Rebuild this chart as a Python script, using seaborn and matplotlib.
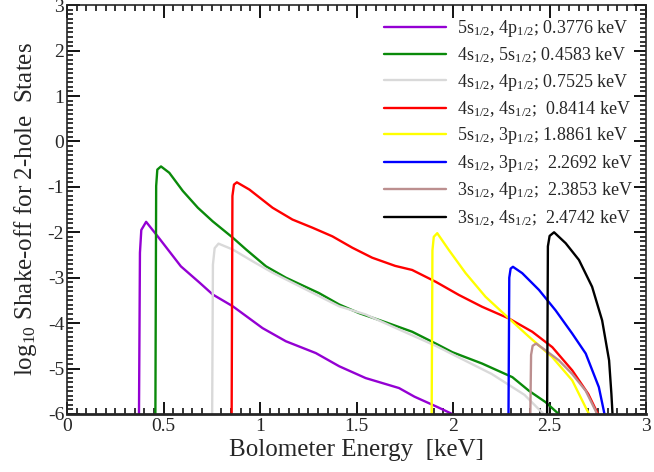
import numpy as np
import pandas as pd
import seaborn as sns
import matplotlib
matplotlib.use('Agg')
import matplotlib.pyplot as plt
from matplotlib.ticker import MultipleLocator, FuncFormatter

# curves: energy [keV] and log10 shake-off
purple_x = [0.373, 0.378, 0.385, 0.41, 0.47, 0.53, 0.59, 0.687, 0.755, 0.859, 1.013, 1.134, 1.289, 1.41, 1.547, 1.72, 1.80, 1.92, 2.02]
purple_y = [-6.0, -2.45, -1.95, -1.77, -2.09, -2.42, -2.75, -3.11, -3.37, -3.63, -4.11, -4.40, -4.66, -4.95, -5.21, -5.43, -5.62, -5.85, -6.05]

green_x = [0.458, 0.462, 0.468, 0.487, 0.53, 0.60, 0.678, 0.755, 0.859, 0.928, 1.031, 1.134, 1.306, 1.41, 1.513, 1.65, 1.788, 1.91, 1.996, 2.15, 2.307, 2.393, 2.479, 2.557]
green_y = [-6.0, -0.98, -0.62, -0.55, -0.69, -1.09, -1.46, -1.76, -2.12, -2.38, -2.75, -3.00, -3.34, -3.59, -3.78, -3.98, -4.19, -4.45, -4.64, -4.89, -5.19, -5.49, -5.74, -6.04]

gray_x = [0.752, 0.756, 0.765, 0.785, 0.859, 0.962, 1.065, 1.168, 1.289, 1.41, 1.547, 1.72, 1.91, 2.05, 2.20, 2.37, 2.48]
gray_y = [-6.0, -2.71, -2.35, -2.25, -2.38, -2.64, -2.89, -3.11, -3.37, -3.63, -3.81, -4.14, -4.50, -4.80, -5.12, -5.58, -6.05]

red_x = [0.853, 0.857, 0.865, 0.88, 0.945, 1.065, 1.168, 1.272, 1.375, 1.478, 1.581, 1.70, 1.788, 1.91, 2.03, 2.15, 2.29, 2.41, 2.514, 2.617, 2.70, 2.755]
red_y = [-6.0, -1.2, -0.95, -0.9, -1.06, -1.46, -1.72, -1.90, -2.09, -2.34, -2.56, -2.74, -2.83, -3.09, -3.38, -3.64, -3.90, -4.19, -4.53, -5.04, -5.56, -6.04]

yellow_x = [1.889, 1.893, 1.90, 1.918, 1.978, 2.065, 2.168, 2.29, 2.393, 2.514, 2.617, 2.687, 2.71]
yellow_y = [-6.0, -2.4, -2.1, -2.02, -2.39, -2.90, -3.42, -3.90, -4.30, -4.75, -5.26, -5.86, -6.05]

blue_x = [2.287, 2.291, 2.298, 2.31, 2.358, 2.445, 2.531, 2.617, 2.687, 2.755, 2.785]
blue_y = [-6.0, -3.0, -2.8, -2.76, -2.90, -3.27, -3.72, -4.23, -4.67, -5.41, -6.02]

brown_x = [2.40, 2.404, 2.412, 2.43, 2.479, 2.548, 2.617, 2.687, 2.738, 2.75]
brown_y = [-6.0, -4.7, -4.5, -4.45, -4.60, -4.82, -5.12, -5.49, -5.93, -6.05]

black_x = [2.487, 2.491, 2.50, 2.523, 2.583, 2.652, 2.72, 2.772, 2.808, 2.82, 2.826]
black_y = [-6.0, -2.31, -2.08, -2.0, -2.24, -2.61, -3.20, -3.94, -4.82, -5.56, -6.02]

labels = [
    r'5s$_\mathregular{1/2}$, 4p$_\mathregular{1/2}$; 0.3776 keV',
    r'4s$_\mathregular{1/2}$, 5s$_\mathregular{1/2}$; 0.4583 keV',
    r'4s$_\mathregular{1/2}$, 4p$_\mathregular{1/2}$; 0.7525 keV',
    r'4s$_\mathregular{1/2}$, 4s$_\mathregular{1/2}$;  0.8414 keV',
    r'5s$_\mathregular{1/2}$, 3p$_\mathregular{1/2}$; 1.8861 keV',
    r'4s$_\mathregular{1/2}$, 3p$_\mathregular{1/2}$;  2.2692 keV',
    r'3s$_\mathregular{1/2}$, 4p$_\mathregular{1/2}$;  2.3853 keV',
    r'3s$_\mathregular{1/2}$, 4s$_\mathregular{1/2}$;  2.4742 keV',
]
colors = ['#9400d3', '#0a8a0a', '#d9d9d9', '#ff0000', '#ffff00', '#0000ff', '#bc8f8f', '#000000']

xs = [purple_x, green_x, gray_x, red_x, yellow_x, blue_x, brown_x, black_x]
ys = [purple_y, green_y, gray_y, red_y, yellow_y, blue_y, brown_y, black_y]

frames = []
for lab, x, y in zip(labels, xs, ys):
    frames.append(pd.DataFrame({'E': x, 'S': y, 'state': lab}))
df = pd.concat(frames, ignore_index=True)

sns.set_style('ticks')
plt.rcParams['font.family'] = ['Liberation Serif', 'DejaVu Serif']
plt.rcParams['mathtext.fontset'] = 'custom'
plt.rcParams['mathtext.rm'] = 'Liberation Serif'
plt.rcParams['mathtext.it'] = 'Liberation Serif:italic'

fig = plt.figure(figsize=(6.54, 4.72), dpi=100)
ax = fig.add_axes([0.1024, 0.123, 0.8856, 0.866])

sns.lineplot(data=df, x='E', y='S', hue='state', palette=dict(zip(labels, colors)),
             estimator=None, sort=False, linewidth=1.7, ax=ax)

ax.set_xlim(0, 3)
ax.set_ylim(-6, 3)
ax.xaxis.set_major_locator(MultipleLocator(0.5))
ax.xaxis.set_minor_locator(MultipleLocator(0.05))
ax.yaxis.set_major_locator(MultipleLocator(1))
ax.yaxis.set_minor_locator(MultipleLocator(0.1))
ax.xaxis.set_major_formatter(FuncFormatter(lambda v, p: '%g' % v))
ax.yaxis.set_major_formatter(FuncFormatter(lambda v, p: '%g' % v))
ax.tick_params(which='both', direction='in', top=True, right=True, bottom=True, left=True,
               labelsize=14, color='black')
ax.tick_params(which='major', length=9, width=1.3)
ax.tick_params(which='minor', length=4.5, width=1.1)
ax.tick_params(axis='x', pad=3)
ax.tick_params(axis='y', pad=2)
for s in ax.spines.values():
    s.set_linewidth(1.2)
ax.spines['bottom'].set_linewidth(2)

ax.set_xlabel('Bolometer Energy  [keV]', fontsize=18, labelpad=3)
ax.set_ylabel(r'log$_\mathregular{10}$ Shake-off for 2-hole  States', fontsize=18, labelpad=6)

ax.legend(loc='upper right', bbox_to_anchor=(1.0, 1.0), frameon=False, fontsize=13,
          handlelength=3.4, handletextpad=0.65, labelspacing=0.36, borderaxespad=0.3)

fig.savefig('out.png', dpi=100)
